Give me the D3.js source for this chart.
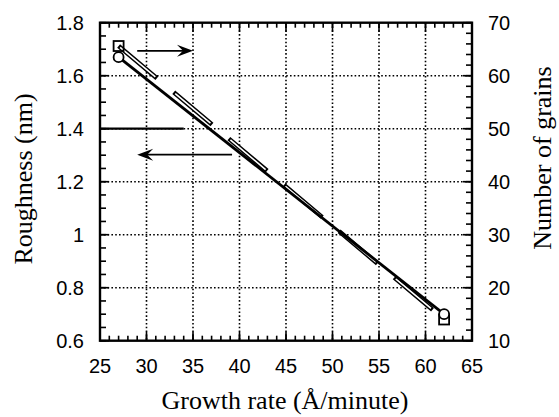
<!DOCTYPE html>
<html>
<head>
<meta charset="utf-8">
<script src="https://cdn.jsdelivr.net/npm/d3@7"></script>
<style>
  body { margin: 0; background: #fff; }
  svg { display: block; }
  .tick-label { font-family: "Liberation Sans", Arial, sans-serif; font-size: 20px; fill: #000; }
  .title { font-family: "Liberation Serif", "DejaVu Serif", "Times New Roman", serif; font-size: 26px; fill: #000; }
</style>
</head>
<body>
<svg id="chart" width="559" height="417"></svg>
<script>
// growth rate (x) for both series
const growthRate = [27, 62];
// roughness in nm, left axis (circles)
const roughness = [1.67, 0.70];
// number of grains, right axis (squares)
const grains = [65.6, 14];

const xTicks = [25, 30, 35, 40, 45, 50, 55, 60, 65];
const yLeftTicks = [0.6, 0.8, 1, 1.2, 1.4, 1.6, 1.8];
const yRightTicks = [10, 20, 30, 40, 50, 60, 70];

const margin = { left: 100, top: 22.7, right: 87, bottom: 76.3 };
const width = 559 - margin.left - margin.right;
const height = 417 - margin.top - margin.bottom;

const svg = d3.select("#chart");
const g = svg.append("g").attr("transform", `translate(${margin.left},${margin.top})`);

const x = d3.scaleLinear().domain([25, 65]).range([0, width]);
const yL = d3.scaleLinear().domain([0.6, 1.8]).range([height, 0]);
const yR = d3.scaleLinear().domain([10, 70]).range([height, 0]);

// dotted grid
g.selectAll(".vgrid").data(xTicks.slice(1, -1)).enter().append("line")
  .attr("x1", d => x(d)).attr("x2", d => x(d))
  .attr("y1", 0).attr("y2", height)
  .attr("stroke", "#000").attr("stroke-width", 1.6).attr("stroke-dasharray", "1.6,2.2");
g.selectAll(".hgrid").data(yLeftTicks.slice(1, -1)).enter().append("line")
  .attr("x1", 0).attr("x2", width)
  .attr("y1", d => yL(d)).attr("y2", d => yL(d))
  .attr("stroke", "#000").attr("stroke-width", 1.6).attr("stroke-dasharray", "1.6,2.2");

// inward ticks
function ticks(values, pos, len, side) {
  values.forEach(v => {
    const p = pos(v);
    let l;
    if (side === "bottom") l = [p, height, p, height - len];
    if (side === "top") l = [p, 0, p, len];
    if (side === "left") l = [0, p, len, p];
    if (side === "right") l = [width, p, width - len, p];
    g.append("line").attr("x1", l[0]).attr("y1", l[1]).attr("x2", l[2]).attr("y2", l[3])
      .attr("stroke", "#000").attr("stroke-width", 1.6);
  });
}
const xMinor = d3.range(25, 65.01, 1);
const yLMinor = d3.range(0.6, 1.801, 0.05);
const yRMinor = d3.range(10, 70.01, 2);
ticks(xMinor, x, 5, "bottom");
ticks(xMinor, x, 5, "top");
ticks(xTicks, x, 9, "bottom");
ticks(xTicks, x, 9, "top");
ticks(yLMinor, yL, 6, "left");
ticks(yLeftTicks, yL, 9, "left");
ticks(yRMinor, yR, 6, "right");
ticks(yRightTicks, yR, 9, "right");

// frame
g.append("rect").attr("width", width).attr("height", height)
  .attr("fill", "none").attr("stroke", "#000").attr("stroke-width", 2.4);

// tick labels
g.selectAll(".xl").data(xTicks).enter().append("text").attr("class", "tick-label")
  .attr("x", d => x(d)).attr("y", height + 32).attr("text-anchor", "middle").text(d => d);
g.selectAll(".yl").data(yLeftTicks).enter().append("text").attr("class", "tick-label")
  .attr("x", -16).attr("y", d => yL(d) + 7).attr("text-anchor", "end").text(d => d);
g.selectAll(".yr").data(yRightTicks).enter().append("text").attr("class", "tick-label")
  .attr("x", width + 16).attr("y", d => yR(d) + 7).attr("text-anchor", "start").text(d => d);

// axis titles
svg.append("text").attr("class", "title").attr("x", 285).attr("y", 409)
  .attr("text-anchor", "middle").text("Growth rate (Å/minute)");
svg.append("text").attr("class", "title").attr("text-anchor", "middle")
  .attr("transform", "translate(32,179) rotate(-90)").text("Roughness (nm)");
svg.append("text").attr("class", "title").attr("text-anchor", "middle")
  .attr("transform", "translate(551,158) rotate(-90)").text("Number of grains");

// grains line: hollow long-dash line
const grainPts = growthRate.map((d, i) => [x(d), yR(grains[i])]);
const roughPts = growthRate.map((d, i) => [x(d), yL(roughness[i])]);
const line = d3.line();
g.append("path").attr("d", line(grainPts)).attr("fill", "none")
  .attr("stroke", "#000").attr("stroke-width", 4.5).attr("stroke-dasharray", "50,22");
g.append("path").attr("d", line(grainPts)).attr("fill", "none")
  .attr("stroke", "#fff").attr("stroke-width", 1.6).attr("stroke-dasharray", "0,2,46,24");

// roughness line solid
g.append("path").attr("d", line(roughPts)).attr("fill", "none")
  .attr("stroke", "#000").attr("stroke-width", 2.8);

// markers
g.selectAll(".sq").data(grainPts).enter().append("rect")
  .attr("x", d => d[0] - 5).attr("y", d => d[1] - 5).attr("width", 10).attr("height", 10)
  .attr("fill", "none").attr("stroke", "#000").attr("stroke-width", 1.8);
g.selectAll(".ci").data(roughPts).enter().append("circle")
  .attr("cx", d => d[0]).attr("cy", d => d[1]).attr("r", 5)
  .attr("fill", "#fff").attr("stroke", "#000").attr("stroke-width", 1.8);

// solid segment at 1.4
g.append("line").attr("x1", x(25)).attr("x2", x(34)).attr("y1", yL(1.4)).attr("y2", yL(1.4))
  .attr("stroke", "#000").attr("stroke-width", 2.2);

// arrows pointing to the axis each series belongs to
function arrow(x1, x2, yv) {
  const dir = Math.sign(x2 - x1);
  g.append("line").attr("x1", x1).attr("x2", x2 - dir * 8).attr("y1", yv).attr("y2", yv)
    .attr("stroke", "#000").attr("stroke-width", 1.8);
  g.append("path")
    .attr("d", `M${x2},${yv} L${x2 - dir * 16},${yv - 6} L${x2 - dir * 10},${yv} L${x2 - dir * 16},${yv + 6} Z`)
    .attr("fill", "#000");
}
arrow(x(29), x(35), yR(64.7));
arrow(x(39.2), x(29), yL(1.302));
</script>
</body>
</html>
